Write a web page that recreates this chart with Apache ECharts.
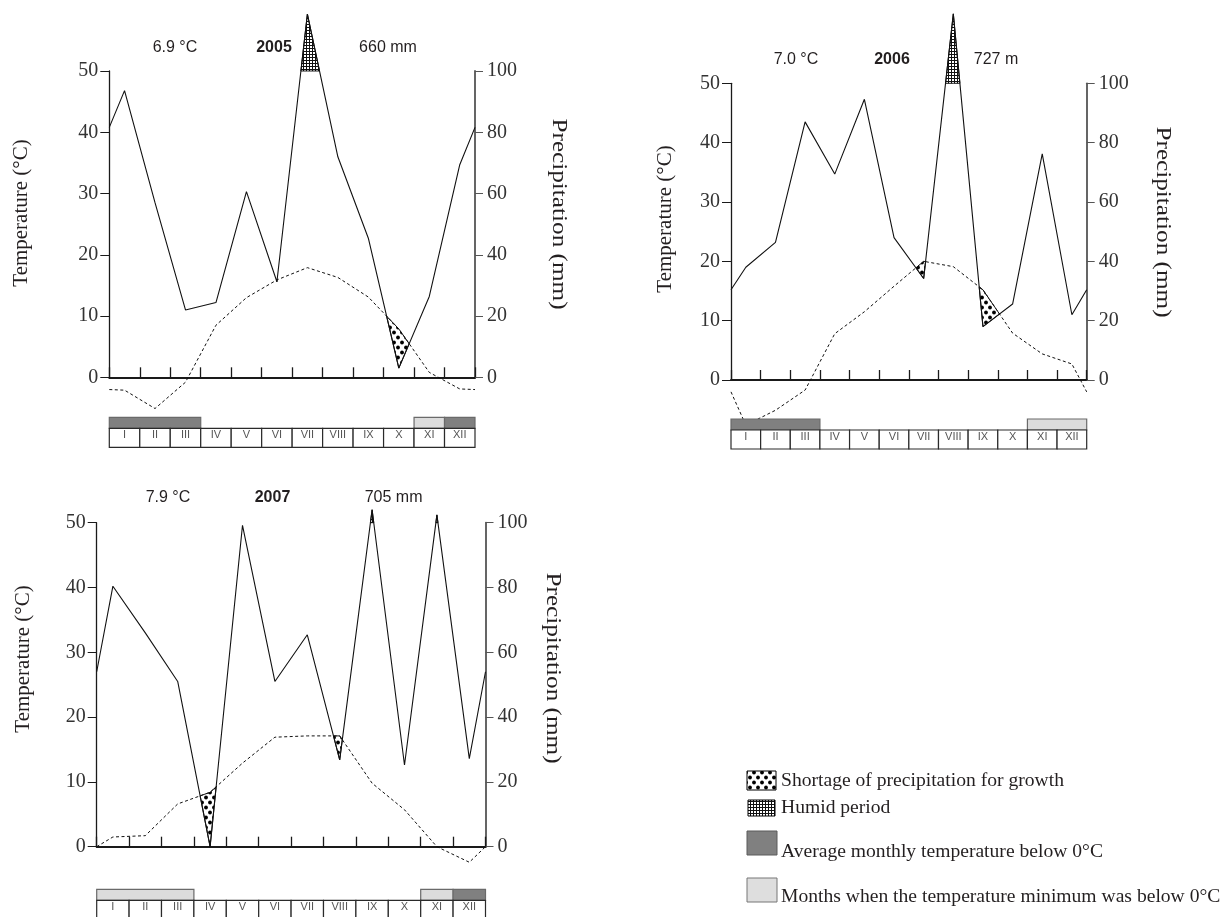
<!DOCTYPE html>
<html><head><meta charset="utf-8">
<script src="https://cdn.jsdelivr.net/npm/echarts@6/dist/echarts.min.js"></script>
<style>html,body{margin:0;padding:0;background:#fff}#c{width:1225px;height:917px}</style>
</head><body><div id="c"></div>
<script>
// ---------- data ----------
const months = ['I','II','III','IV','V','VI','VII','VIII','IX','X','XI','XII'];
const years = ['2005','2006','2007'];
const meanTemp = ['6.9 °C','7.0 °C','7.9 °C'];
const annualPrecip = ['660 mm','727 m','705 mm'];
// positions on the month axis: left edge, mid-month I..XII, right edge
const xPos = [0,0.5,1.5,2.5,3.5,4.5,5.5,6.5,7.5,8.5,9.5,10.5,11.5,12];
const temp2005   = [-2.0,-2.1,-5.1,-0.8, 8.5,13.0,15.9,17.9,16.3,13.1, 7.9, 0.8,-1.9,-2.0];
const precip2005 = [81.6,93.6,57.0,22.0,24.4,60.6,31.2,118.6,72.0,45.4, 3.0,26.4,69.4,81.6];
const temp2006   = [-2.0,-7.6,-5.1,-1.7, 7.8,11.5,15.8,20.0,19.1,15.2, 7.9, 4.4, 2.7,-2.0];
const precip2006 = [30.4,38.0,46.4,87.0,69.4,94.6,48.0,34.2,123.4,18.0,25.6,76.2,22.0,30.4];
const temp2007   = [ 0.0, 1.5, 1.7, 6.6, 8.4,12.9,16.9,17.1,17.1, 9.8, 5.7, 0.0,-2.4, 0.0];
const precip2007 = [54.0,80.4,66.0,51.0, 0.0,99.2,51.0,65.4,26.8,104.0,25.2,102.4,27.2,54.0];
// 2 = average monthly temperature below 0°C, 1 = temperature minimum below 0°C
const frost2005 = [2,2,2,0,0,0,0,0,0,0,1,2];
const frost2006 = [2,2,2,0,0,0,0,0,0,0,1,1];
const frost2007 = [1,1,1,0,0,0,0,0,0,0,1,2];
const tempTicks = [0,50,10];     // min, max, interval
const precipTicks = [0,100,20];
const legendTexts = ['Shortage of precipitation for growth','Humid period','Average monthly temperature below 0°C','Months when the temperature minimum was below 0°C'];

// ---------- layout ----------
const layout = [
  {left:109.3, top:71,    width:365.7, height:306.3, boxGap:40,   titleX:[175,274,388],   titleY:48,  tempLab:[21.7,213], precLab:[559,214]},
  {left:731,   top:83.3,  width:355.7, height:296.7, boxGap:39,   titleX:[796,892,996],   titleY:60,  tempLab:[665,219],  precLab:[1162.5,222]},
  {left:96.7,  top:522.7, width:388.8, height:324,   boxGap:42.6, titleX:[168,272.5,393.6], titleY:498, tempLab:[23,659], precLab:[553,668]}
];
const STRIP_H = 11, BOX_H = 19;
const panels = [
  {temp:temp2005, precip:precip2005, frost:frost2005},
  {temp:temp2006, precip:precip2006, frost:frost2006},
  {temp:temp2007, precip:precip2007, frost:frost2007}
];

function makePattern(type){
  const c = document.createElement('canvas');
  const g = c.getContext('2d');
  if(type==='dots'){
    c.width=8;c.height=10; g.fillStyle='#fff';g.fillRect(0,0,8,10); g.fillStyle='#000';
    [[2,2.5],[6,7.5]].forEach(([x,y])=>{g.beginPath();g.arc(x,y,1.9,0,Math.PI*2);g.fill();});
  } else {
    c.width=3;c.height=3; g.fillStyle='#fff';g.fillRect(0,0,3,3); g.fillStyle='#111';
    g.fillRect(0,0,3,1); g.fillRect(0,0,1,3);
  }
  return {image:c, repeat:'repeat'};
}
const dotsPat = makePattern('dots'), gridPat = makePattern('grid');

// polygons where A > B (piecewise linear on common xs)
function regions(xs, A, B){
  const polys=[]; let cur=null;
  for(let i=0;i<xs.length;i++){
    const d = A[i]-B[i];
    if(i>0){
      const dp = A[i-1]-B[i-1];
      if((dp>0)!==(d>0)){
        const t = dp/(dp-d);
        const xc = xs[i-1]+t*(xs[i]-xs[i-1]);
        const yc = B[i-1]+t*(B[i]-B[i-1]);
        if(cur){cur.a.push([xc,yc]);cur.b.push([xc,yc]);polys.push(cur);cur=null;}
        else cur={a:[[xc,yc]],b:[[xc,yc]]};
      }
    }
    if(d>0){ if(!cur) cur={a:[],b:[]}; cur.a.push([xs[i],A[i]]); cur.b.push([xs[i],B[i]]); }
  }
  if(cur) polys.push(cur);
  return polys.map(c=>c.a.concat(c.b.slice().reverse()));
}
function runs(arr){
  const r=[]; let s=0;
  for(let i=1;i<=arr.length;i++){
    if(i===arr.length || arr[i]!==arr[s]){ if(arr[s]>0) r.push([s,i-1,arr[s]]); s=i; }
  }
  return r;
}

const grids=[], xAxes=[], yAxes=[], series=[], graphics=[];
const serif = '"Liberation Serif", "Times New Roman", serif';
const sans = '"Liberation Sans", Arial, sans-serif';
const ink = '#231f20';

panels.forEach((P,i)=>{
  const L = layout[i];
  grids.push({left:L.left, top:L.top, width:L.width, height:L.height, containLabel:false});
  xAxes.push({gridIndex:i, type:'value', min:0, max:12, interval:1,
    axisLine:{show:true, onZero:false, lineStyle:{color:'#1a1a1a', width:2}},
    axisTick:{show:true, inside:true, length:10, lineStyle:{color:'#1a1a1a', width:1.3}},
    axisLabel:{show:false}, splitLine:{show:false}});
  yAxes.push({gridIndex:i, type:'value', position:'left', min:tempTicks[0], max:tempTicks[1], interval:tempTicks[2],
    axisLine:{show:true, lineStyle:{color:'#1a1a1a', width:1.3}},
    axisTick:{show:true, length:9, lineStyle:{color:'#1a1a1a', width:1}},
    axisLabel:{margin:11, fontFamily:serif, fontSize:20, color:'#333'}, splitLine:{show:false}});
  yAxes.push({gridIndex:i, type:'value', position:'right', min:precipTicks[0], max:precipTicks[1], interval:precipTicks[2],
    axisLine:{show:true, lineStyle:{color:'#555', width:1.8}},
    axisTick:{show:true, length:8, lineStyle:{color:'#555', width:1}},
    axisLabel:{margin:12, fontFamily:serif, fontSize:20, color:'#333'}, splitLine:{show:false}});
  const ratio = (tempTicks[1]-tempTicks[0])/(precipTicks[1]-precipTicks[0]);
  const pe = P.precip.map(v=>v*ratio);
  // fills
  series.push({type:'custom', xAxisIndex:i, yAxisIndex:2*i, data:[[0,0]], silent:true, z:3,
    renderItem:(params, api)=>{
      const ch=[];
      regions(xPos, P.temp, pe).forEach(poly=>ch.push({type:'polygon',
        shape:{points:poly.map(p=>api.coord(p))}, style:{fill:dotsPat, stroke:'#000', lineWidth:0.9}}));
      regions(xPos, pe, xPos.map(()=>tempTicks[1])).forEach(poly=>ch.push({type:'polygon',
        shape:{points:poly.map(p=>api.coord(p))}, style:{fill:gridPat, stroke:'#000', lineWidth:0.9}}));
      return {type:'group', children:ch};
    }});
  series.push({type:'line', xAxisIndex:i, yAxisIndex:2*i, data:xPos.map((x,k)=>[x,P.temp[k]]),
    symbol:'none', clip:false, silent:true, z:4, lineStyle:{color:'#111', width:1, type:[3,2.5]}});
  series.push({type:'line', xAxisIndex:i, yAxisIndex:2*i+1, data:xPos.map((x,k)=>[x,P.precip[k]]),
    symbol:'none', clip:false, silent:true, z:4, lineStyle:{color:'#111', width:1.1}});
  // frost strips
  series.push({type:'custom', xAxisIndex:i, yAxisIndex:2*i, data:runs(P.frost), silent:true, z:5,
    renderItem:(params, api)=>{
      const s=api.value(0), e=api.value(1), t=api.value(2);
      const p0=api.coord([s,0]), p1=api.coord([e+1,0]);
      return {type:'rect', shape:{x:p0[0], y:p0[1]+L.boxGap, width:p1[0]-p0[0], height:STRIP_H},
        style:{fill:t===2?'#808080':'#dcdcdc', stroke:'#6a6a6a', lineWidth:1.2}};
    }});
  // month boxes
  series.push({type:'custom', xAxisIndex:i, yAxisIndex:2*i, data:months.map((m,k)=>[k,0]), silent:true, z:6,
    renderItem:(params, api)=>{
      const k=api.value(0);
      const p0=api.coord([k,0]), p1=api.coord([k+1,0]);
      const y=p0[1]+L.boxGap+STRIP_H;
      return {type:'group', children:[
        {type:'rect', shape:{x:p0[0], y:y, width:p1[0]-p0[0], height:BOX_H}, style:{fill:'#fff', stroke:'#2a2a2a', lineWidth:1.2}},
        {type:'text', style:{text:months[k], x:(p0[0]+p1[0])/2, y:y+7, align:'center', verticalAlign:'middle', font:'11px '+sans, fill:'#555'}}
      ]};
    }});
  // titles
  [meanTemp[i], years[i], annualPrecip[i]].forEach((t,j)=>{
    graphics.push({type:'text', x:L.titleX[j], y:L.titleY, silent:true,
      style:{text:t, align:'center', verticalAlign:'middle', textAlign:'center', textVerticalAlign:'middle',
        font:(j===1?'bold ':'')+'16px '+sans, fill:ink}});
  });
  graphics.push({type:'text', x:L.tempLab[0], y:L.tempLab[1], rotation:Math.PI/2, silent:true,
    style:{text:'Temperature (°C)', align:'center', verticalAlign:'middle', textAlign:'center', textVerticalAlign:'middle', font:'21px '+serif, fill:ink}});
  graphics.push({type:'text', x:L.precLab[0], y:L.precLab[1], rotation:-Math.PI/2, scaleX:1.2, silent:true,
    style:{text:'Precipitation (mm)', align:'center', verticalAlign:'middle', textAlign:'center', textVerticalAlign:'middle', font:'21px '+serif, fill:ink}});
});

// legend
const legIcons = [
  {x:747, y:771, w:29, h:19, fill:dotsPat, stroke:'#000'},
  {x:748, y:800, w:27, h:16, fill:gridPat, stroke:'#000'},
  {x:747, y:831, w:30, h:24, fill:'#808080', stroke:'#5a5a5a'},
  {x:747, y:878, w:30, h:24, fill:'#dedede', stroke:'#777'}
];
const legTextY = [781, 808, 852, 897];
legIcons.forEach((ic,k)=>{
  graphics.push({type:'rect', silent:true, shape:{x:ic.x, y:ic.y, width:ic.w, height:ic.h}, style:{fill:ic.fill, stroke:ic.stroke, lineWidth:1}});
  graphics.push({type:'text', x:781, y:legTextY[k], silent:true,
    style:{text:legendTexts[k], align:'left', verticalAlign:'middle', textAlign:'left', textVerticalAlign:'middle', font:'19.6px '+serif, fill:ink}});
});

const chart = echarts.init(document.getElementById('c'));
chart.setOption({
  animation:false, backgroundColor:'#fff',
  grid:grids, xAxis:xAxes, yAxis:yAxes, series:series, graphic:graphics
});
</script></body></html>
